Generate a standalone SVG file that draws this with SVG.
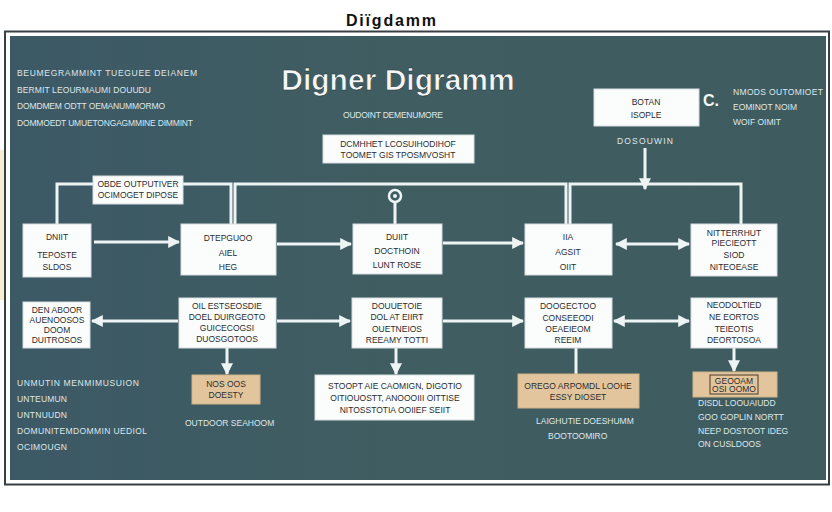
<svg xmlns="http://www.w3.org/2000/svg" width="832" height="512" viewBox="0 0 832 512">
<defs>
<marker id="ah" viewBox="0 0 10 10" refX="9" refY="5" markerWidth="4" markerHeight="4" orient="auto-start-reverse">
<path d="M0,0 L10,5 L0,10 z" fill="#eef4f4"/>
</marker>
<linearGradient id="bg" x1="0" y1="0" x2="1" y2="0">
<stop offset="0" stop-color="#3c5966"/>
<stop offset="0.5" stop-color="#405e61"/>
<stop offset="1" stop-color="#3e5b60"/>
</linearGradient>
</defs>
<style>
.node{fill:#fbfcfc;stroke:#d6dde0;stroke-width:1}
.tan{fill:#e2c59c;stroke:#cfb488;stroke-width:1}
.t{font-family:"Liberation Sans",Arial,sans-serif;font-size:8.5px;fill:#2a2d30;text-anchor:middle}
.w{font-family:"Liberation Sans",Arial,sans-serif;font-size:8.5px;fill:#dfe8ea}
.wc{font-family:"Liberation Sans",Arial,sans-serif;font-size:8.5px;fill:#dfe8ea;text-anchor:middle}
.ln{stroke:#eef4f4;stroke-width:3;fill:none}
.ar{stroke:#eef4f4;stroke-width:3;fill:none;marker-end:url(#ah)}
</style>
<rect width="832" height="512" fill="#ffffff"/>
<text x="391" y="26" font-family="Liberation Sans,Arial,sans-serif" font-size="16" font-weight="bold" fill="#111" text-anchor="middle" textLength="90">Diïgdamm</text>
<rect x="5" y="31.5" width="824" height="453" fill="none" stroke="#3a3f44" stroke-width="2"/>
<rect x="10" y="36" width="816" height="444" fill="url(#bg)"/>
<rect x="0" y="150" width="4" height="150" fill="#f3efcf"/>

<g id="texts">
<text x="398" y="90" font-family="Liberation Sans,Arial,sans-serif" font-size="30" font-weight="bold" fill="#f4f7f7" stroke="#22343a" stroke-width="0.6" text-anchor="middle">Digner Digramm</text>
<text class="w" x="17" y="76" textLength="180">BEUMEGRAMMINT TUEGUEE DEIANEM</text>
<text class="w" x="17" y="93" textLength="134">BERMIT LEOURMAUMI DOUUDU</text>
<text class="w" x="17" y="109" textLength="148">DOMDMEM ODTT OEMANUMMORMO</text>
<text class="w" x="17" y="126" textLength="176">DOMMOEDT UMUETONGAGMMINE DIMMINT</text>
<text class="wc" x="393" y="118" textLength="100">OUDOINT DEMENUMORE</text>
<text class="w" x="733" y="95" textLength="90">NMODS OUTOMIOET</text>
<text class="w" x="733" y="110" textLength="64">EOMINOT NOIM</text>
<text class="w" x="733" y="125" textLength="48">WOIF OIMIT</text>
<text class="w" x="617" y="144" textLength="56">DOSOUWIN</text>
<text class="w" x="17" y="386" textLength="122">UNMUTIN MENMIMUSUION</text>
<text class="w" x="17" y="402" textLength="50">UNTEUMUN</text>
<text class="w" x="17" y="418" textLength="50">UNTNUUDN</text>
<text class="w" x="17" y="434" textLength="130">DOMUNITEMDOMMIN UEDIOL</text>
<text class="w" x="17" y="450" textLength="50">OCIMOUGN</text>
<text class="w" x="185" y="426">OUTDOOR SEAHOOM</text>
<text class="w" x="536" y="424">LAIGHUTIE DOESHUMM</text>
<text class="w" x="548" y="439">BOOTOOMIRO</text>
<text class="w" x="698" y="406">DISDL LOOUAIUDD</text>
<text class="w" x="698" y="420">GOO GOPLIN NORTT</text>
<text class="w" x="698" y="434">NEEP DOSTOOT IDEG</text>
<text class="w" x="698" y="447">ON CUSLDOOS</text>
</g>

<g id="connectors">
<polyline class="ln" points="57,225 57,184 231,184 231,224"/>
<polyline class="ln" points="235,224 235,184 566,184 566,224"/>
<polyline class="ln" points="570,224 570,184 741,184 741,224"/>
<line class="ln" x1="395" y1="202" x2="395" y2="224"/>
<circle cx="395" cy="196" r="6" fill="#3e5d60" stroke="#eef4f4" stroke-width="2.5"/>
<circle cx="395" cy="196" r="2" fill="#eef4f4"/>
<line class="ar" x1="645" y1="148" x2="645" y2="189"/>
<line class="ar" x1="94" y1="242" x2="179" y2="242"/>
<line class="ar" x1="277" y1="244" x2="351" y2="244"/>
<line class="ar" x1="443" y1="243" x2="523" y2="243"/>
<line class="ar" x1="616" y1="244" x2="689" y2="244" marker-start="url(#ah)"/>
<line class="ar" x1="178" y1="321" x2="92" y2="321"/>
<line class="ar" x1="277" y1="321" x2="350" y2="321"/>
<line class="ar" x1="443" y1="321" x2="523" y2="321"/>
<line class="ar" x1="689" y1="321" x2="614" y2="321" marker-start="url(#ah)"/>
<line class="ar" x1="227" y1="348" x2="227" y2="374"/>
<line class="ar" x1="396" y1="348" x2="396" y2="374"/>
<line class="ln" x1="576" y1="348" x2="576" y2="374"/>
<line class="ar" x1="734" y1="348" x2="734" y2="371"/>
</g>

<g id="label-top">
<rect x="323" y="135" width="151" height="28" class="node"/>
<text class="t" x="398" y="147">DCMHHET LCOSUIHODIHOF</text>
<text class="t" x="398" y="158">TOOMET GIS TPOSMVOSHT</text>
</g>
<g id="label-botan">
<rect x="594" y="89" width="105" height="37" class="node"/>
<text class="t" x="646" y="105">BOTAN</text>
<text class="t" x="646" y="118">ISOPLE</text>
<text x="703" y="106" font-family="Liberation Sans,Arial,sans-serif" font-size="16" font-weight="bold" fill="#f4f7f7">C.</text>
</g>
<g id="label-left">
<rect x="93" y="176" width="90" height="28" class="node"/>
<text class="t" x="138" y="187">OBDE OUTPUTIVER</text>
<text class="t" x="138" y="198">OCIMOGET DIPOSE</text>
</g>

<g id="n1">
<rect x="23" y="224" width="68" height="53" class="node"/>
<text class="t" x="57" y="240">DNIIT</text>
<text class="t" x="57" y="258">TEPOSTE</text>
<text class="t" x="57" y="270">SLDOS</text>
</g>
<g id="n2">
<rect x="181" y="224" width="95" height="51" class="node"/>
<text class="t" x="228" y="241">DTEPGUOO</text>
<text class="t" x="228" y="256">AIEL</text>
<text class="t" x="228" y="270">HEG</text>
</g>
<g id="n3">
<rect x="353" y="224" width="89" height="50" class="node"/>
<text class="t" x="397" y="240">DUIIT</text>
<text class="t" x="397" y="254">DOCTHOIN</text>
<text class="t" x="397" y="268">LUNT ROSE</text>
</g>
<g id="n4">
<rect x="525" y="224" width="87" height="51" class="node"/>
<text class="t" x="568" y="240">IIA</text>
<text class="t" x="568" y="255">AGSIT</text>
<text class="t" x="568" y="270">OIIT</text>
</g>
<g id="n5">
<rect x="691" y="224" width="86" height="52" class="node"/>
<text class="t" x="734" y="236">NITTERRHUT</text>
<text class="t" x="734" y="246">PIECIEOTT</text>
<text class="t" x="734" y="258">SIOD</text>
<text class="t" x="734" y="270">NITEOEASE</text>
</g>

<g id="n6">
<rect x="23" y="302" width="67" height="46" class="node"/>
<text class="t" x="57" y="313">DEN ABOOR</text>
<text class="t" x="57" y="323">AUENOOSOS</text>
<text class="t" x="57" y="333">DOOM</text>
<text class="t" x="57" y="343">DUITROSOS</text>
</g>
<g id="n7">
<rect x="179" y="298" width="97" height="50" class="node"/>
<text class="t" x="227" y="309">OIL ESTSEOSDIE</text>
<text class="t" x="227" y="320">DOEL DUIRGEOTO</text>
<text class="t" x="227" y="331">GUICECOGSI</text>
<text class="t" x="227" y="342">DUOSGOTOOS</text>
</g>
<g id="n8">
<rect x="352" y="298" width="90" height="50" class="node"/>
<text class="t" x="397" y="309">DOUUETOIE</text>
<text class="t" x="397" y="320">DOL AT EIIRT</text>
<text class="t" x="397" y="332">OUETNEIOS</text>
<text class="t" x="397" y="343">REEAMY TOTTI</text>
</g>
<g id="n9">
<rect x="525" y="298" width="87" height="50" class="node"/>
<text class="t" x="568" y="309">DOOGECTOO</text>
<text class="t" x="568" y="321">CONSEEODI</text>
<text class="t" x="568" y="332">OEAEIEOM</text>
<text class="t" x="568" y="343">REEIM</text>
</g>
<g id="n10">
<rect x="691" y="298" width="86" height="50" class="node"/>
<text class="t" x="734" y="308">NEODOLTIED</text>
<text class="t" x="734" y="320">NE EORTOS</text>
<text class="t" x="734" y="332">TEIEOTIS</text>
<text class="t" x="734" y="343">DEORTOSOA</text>
</g>

<g id="n11">
<rect x="192" y="375" width="68" height="29" class="tan"/>
<text class="t" x="226" y="387">NOS OOS</text>
<text class="t" x="226" y="398">DOESTY</text>
</g>
<g id="n12">
<rect x="315" y="375" width="159" height="45" class="node"/>
<text class="t" x="395" y="389">STOOPT AIE CAOMIGN, DIGOTIO</text>
<text class="t" x="395" y="401">OITIOUOSTT, ANOOOIII OITTISE</text>
<text class="t" x="395" y="413">NITOSSTOTIA OOIIEF SEIIT</text>
</g>
<g id="n13">
<rect x="518" y="374" width="121" height="34" class="tan"/>
<text class="t" x="578" y="389">OREGO ARPOMDL LOOHE</text>
<text class="t" x="578" y="400">ESSY DIOSET</text>
</g>
<g id="n14">
<rect x="693" y="372" width="84" height="25" class="tan"/>
<rect x="710" y="375" width="48" height="19" fill="none" stroke="#4a3a26" stroke-width="1"/>
<text class="t" x="734" y="383.5">GEOOAM</text>
<text class="t" x="734" y="392">OSI OOMO</text>
</g>
</svg>
